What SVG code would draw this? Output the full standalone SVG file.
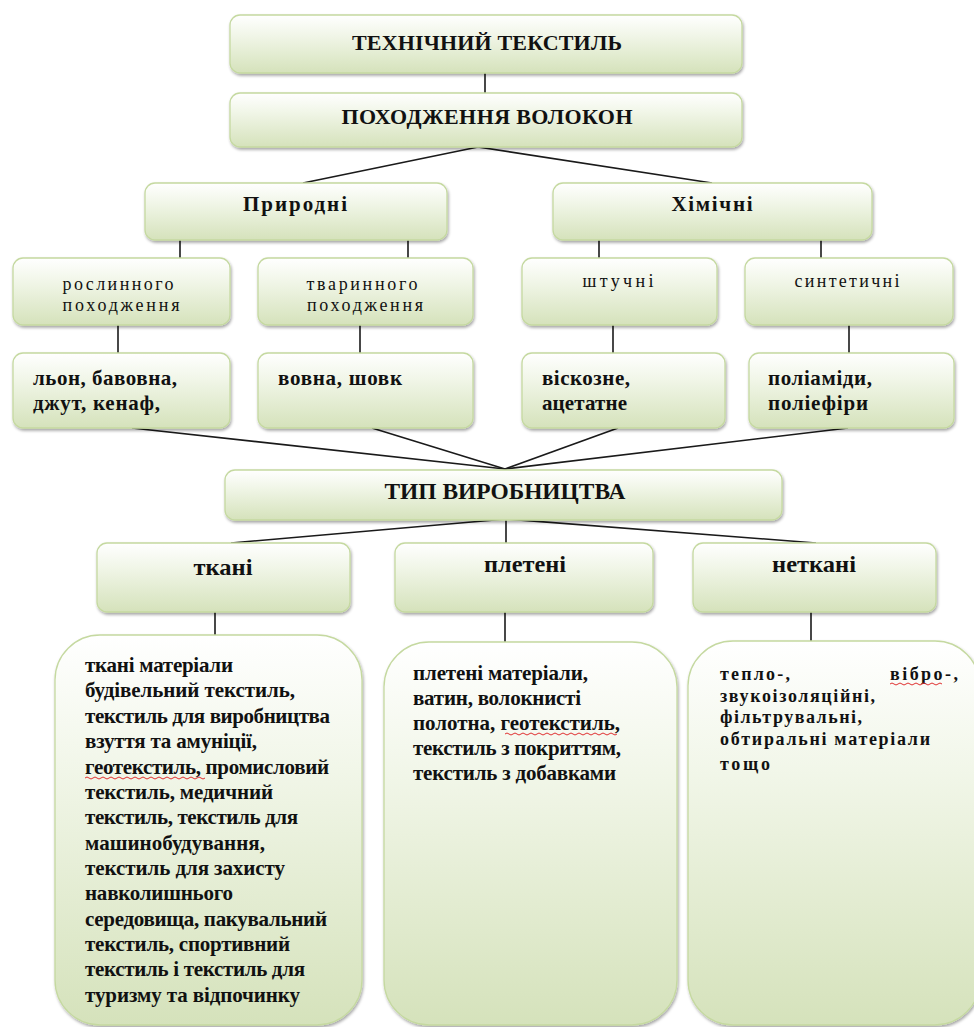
<svg xmlns="http://www.w3.org/2000/svg" width="974" height="1027" viewBox="0 0 974 1027" font-family="'Liberation Serif', 'Times New Roman', serif">
<defs>
<linearGradient id="g" x1="0" y1="0" x2="0" y2="1">
<stop offset="0" stop-color="#ffffff"/>
<stop offset="0.35" stop-color="#f1f6e8"/>
<stop offset="1" stop-color="#d5e2bb"/>
</linearGradient>
<filter id="sh" x="-5%" y="-5%" width="112%" height="120%">
<feDropShadow dx="1" dy="2" stdDeviation="1.5" flood-color="#000" flood-opacity="0.35"/>
</filter>
</defs>
<style>
.b{fill:url(#g);stroke:#c5d9a0;stroke-width:1.3;filter:url(#sh)}
.c line{stroke:#1a1a1a;stroke-width:1.6}
text{font-family:'Liberation Serif','Times New Roman',serif;fill:#111}
.t{font-weight:bold;font-size:22px;text-anchor:middle}
.m{font-weight:bold;font-size:21px;text-anchor:middle}
.r{font-size:18px;text-anchor:middle}
.k{font-weight:bold;font-size:21px}
.s{font-weight:bold;font-size:18px}
.cn{font-weight:bold;font-size:24px;text-anchor:middle}
.sq{fill:none;stroke:#e03030;stroke-width:1}
</style>
<g class="c" id="connectors">
<line x1="485" y1="73" x2="485" y2="93"/>
<line x1="478" y1="147" x2="303" y2="183"/>
<line x1="478" y1="147" x2="712" y2="183"/>
<line x1="180" y1="240" x2="180" y2="258"/>
<line x1="408" y1="240" x2="408" y2="258"/>
<line x1="599" y1="240" x2="599" y2="258"/>
<line x1="821" y1="240" x2="821" y2="258"/>
<line x1="118" y1="325" x2="118" y2="353"/>
<line x1="360" y1="325" x2="360" y2="353"/>
<line x1="613" y1="325" x2="613" y2="353"/>
<line x1="849" y1="325" x2="849" y2="353"/>
<line x1="132" y1="428" x2="505" y2="469"/>
<line x1="372" y1="428" x2="505" y2="469"/>
<line x1="618" y1="428" x2="505" y2="469"/>
<line x1="848" y1="428" x2="505" y2="469"/>
<line x1="506" y1="519" x2="231" y2="543"/>
<line x1="506" y1="519" x2="506" y2="543"/>
<line x1="506" y1="519" x2="816" y2="543"/>
<line x1="215" y1="612" x2="215" y2="635"/>
<line x1="505" y1="612" x2="505" y2="642"/>
<line x1="811" y1="612" x2="811" y2="641"/>
</g>
<g id="n-tech">
<rect class="b" x="230" y="15" width="512" height="58" rx="10"/>
<text class="t" x="487" y="50" textLength="270">ТЕХНІЧНИЙ ТЕКСТИЛЬ</text>
</g>
<g id="n-origin">
<rect class="b" x="230" y="93" width="512" height="54" rx="10"/>
<text class="t" x="487" y="124" textLength="291">ПОХОДЖЕННЯ ВОЛОКОН</text>
</g>
<g id="n-natural">
<rect class="b" x="145" y="183" width="302" height="57" rx="10"/>
<text class="m" x="295" y="211" textLength="104">Природні</text>
</g>
<g id="n-chemical">
<rect class="b" x="553" y="183" width="319" height="57" rx="10"/>
<text class="m" x="712" y="211" textLength="81">Хімічні</text>
</g>
<g id="n-plant">
<rect class="b" x="13" y="258" width="217" height="67" rx="10"/>
<text class="r" x="118" y="290" textLength="111">рослинного</text>
<text class="r" x="121" y="311" textLength="117">походження</text>
</g>
<g id="n-animal">
<rect class="b" x="258" y="258" width="215" height="67" rx="10"/>
<text class="r" x="362" y="290" textLength="111">тваринного</text>
<text class="r" x="365" y="311" textLength="116">походження</text>
</g>
<g id="n-artificial">
<rect class="b" x="522" y="258" width="195" height="67" rx="10"/>
<text class="r" x="618" y="287" textLength="71">штучні</text>
</g>
<g id="n-synthetic">
<rect class="b" x="745" y="258" width="208" height="67" rx="10"/>
<text class="r" x="847" y="287" textLength="105">синтетичні</text>
</g>
<g id="n-flax">
<rect class="b" x="13" y="353" width="217" height="75" rx="10"/>
<text class="k" x="33" y="385" textLength="144">льон, бавовна,</text>
<text class="k" x="33" y="410" textLength="127">джут, кенаф,</text>
</g>
<g id="n-wool">
<rect class="b" x="258" y="353" width="215" height="75" rx="10"/>
<text class="k" x="278" y="385" textLength="124">вовна, шовк</text>
</g>
<g id="n-viscose">
<rect class="b" x="522" y="353" width="203" height="75" rx="10"/>
<text class="k" x="542" y="385" textLength="88">віскозне,</text>
<text class="k" x="542" y="410" textLength="85">ацетатне</text>
</g>
<g id="n-polyamide">
<rect class="b" x="749" y="353" width="205" height="75" rx="10"/>
<text class="k" x="768" y="385" textLength="104">поліаміди,</text>
<text class="k" x="768" y="410" textLength="100">поліефіри</text>
</g>
<g id="n-type">
<rect class="b" x="225" y="470" width="557" height="50" rx="10"/>
<text class="cn" x="505" y="499" textLength="241" lengthAdjust="spacingAndGlyphs">ТИП ВИРОБНИЦТВА</text>
</g>
<g id="n-woven">
<rect class="b" x="97" y="543" width="253" height="69" rx="10"/>
<text class="cn" x="223" y="575" textLength="59" lengthAdjust="spacingAndGlyphs">ткані</text>
</g>
<g id="n-knitted">
<rect class="b" x="395" y="543" width="258" height="69" rx="10"/>
<text class="cn" x="525" y="572" textLength="82" lengthAdjust="spacingAndGlyphs">плетені</text>
</g>
<g id="n-nonwoven">
<rect class="b" x="693" y="543" width="243" height="69" rx="10"/>
<text class="cn" x="814" y="572" textLength="84" lengthAdjust="spacingAndGlyphs">неткані</text>
</g>
<g id="n-woven-list">
<rect class="b" x="55" y="635" width="307" height="390" rx="45"/>
<text class="k" x="85" y="672" textLength="148">ткані матеріали</text>
<text class="k" x="85" y="697" textLength="210">будівельний текстиль,</text>
<text class="k" x="85" y="723" textLength="245">текстиль для виробництва</text>
<text class="k" x="85" y="748" textLength="172">взуття та амуніції,</text>
<text class="k" x="85" y="774" textLength="244">геотекстиль, промисловий</text>
<text class="k" x="85" y="799" textLength="188">текстиль, медичний</text>
<text class="k" x="85" y="824" textLength="213">текстиль, текстиль для</text>
<text class="k" x="85" y="850" textLength="180">машинобудування,</text>
<text class="k" x="85" y="875" textLength="200">текстиль для захисту</text>
<text class="k" x="85" y="900" textLength="148">навколишнього</text>
<text class="k" x="85" y="926" textLength="242">середовища, пакувальний</text>
<text class="k" x="85" y="951" textLength="205">текстиль, спортивний</text>
<text class="k" x="85" y="976" textLength="220">текстиль і текстиль для</text>
<text class="k" x="85" y="1002" textLength="215">туризму та відпочинку</text>
<path class="sq" d="M85 778 q2 -2 4 0 t4 0 t4 0 t4 0 t4 0 t4 0 t4 0 t4 0 t4 0 t4 0 t4 0 t4 0 t4 0 t4 0 t4 0 t4 0 t4 0 t4 0 t4 0 t4 0 t4 0 t4 0 t4 0 t4 0 t4 0 t4 0 t4 0 t4 0 t4 0 t4 0"/>
</g>
<g id="n-knitted-list">
<rect class="b" x="384" y="642" width="293" height="383" rx="45"/>
<text class="k" x="413" y="680" textLength="175">плетені матеріали,</text>
<text class="k" x="413" y="705" textLength="168">ватин, волокнисті</text>
<text class="k" x="413" y="730" textLength="207">полотна, геотекстиль,</text>
<text class="k" x="413" y="755" textLength="208">текстиль з покриттям,</text>
<text class="k" x="413" y="780" textLength="203">текстиль з добавками</text>
<path class="sq" d="M505 734 q2 -2 4 0 t4 0 t4 0 t4 0 t4 0 t4 0 t4 0 t4 0 t4 0 t4 0 t4 0 t4 0 t4 0 t4 0 t4 0 t4 0 t4 0 t4 0 t4 0 t4 0 t4 0 t4 0 t4 0 t4 0 t4 0 t4 0 t4 0 t4 0"/>
</g>
<g id="n-nonwoven-list">
<rect class="b" x="688" y="641" width="292" height="384" rx="45"/>
<text class="s" x="720" y="680"><tspan x="720" textLength="70">тепло-,</tspan><tspan x="890" textLength="68">вібро-,</tspan></text>
<text class="s" x="720" y="702" textLength="155">звукоізоляційні,</text>
<text class="s" x="720" y="723" textLength="142">фільтрувальні,</text>
<text class="s" x="720" y="745" textLength="210">обтиральні матеріали</text>
<text class="s" x="720" y="770" textLength="50">тощо</text>
<path class="sq" d="M890 684 q2 -2 4 0 t4 0 t4 0 t4 0 t4 0 t4 0 t4 0 t4 0 t4 0 t4 0 t4 0 t4 0 t4 0"/>
</g>
</svg>
